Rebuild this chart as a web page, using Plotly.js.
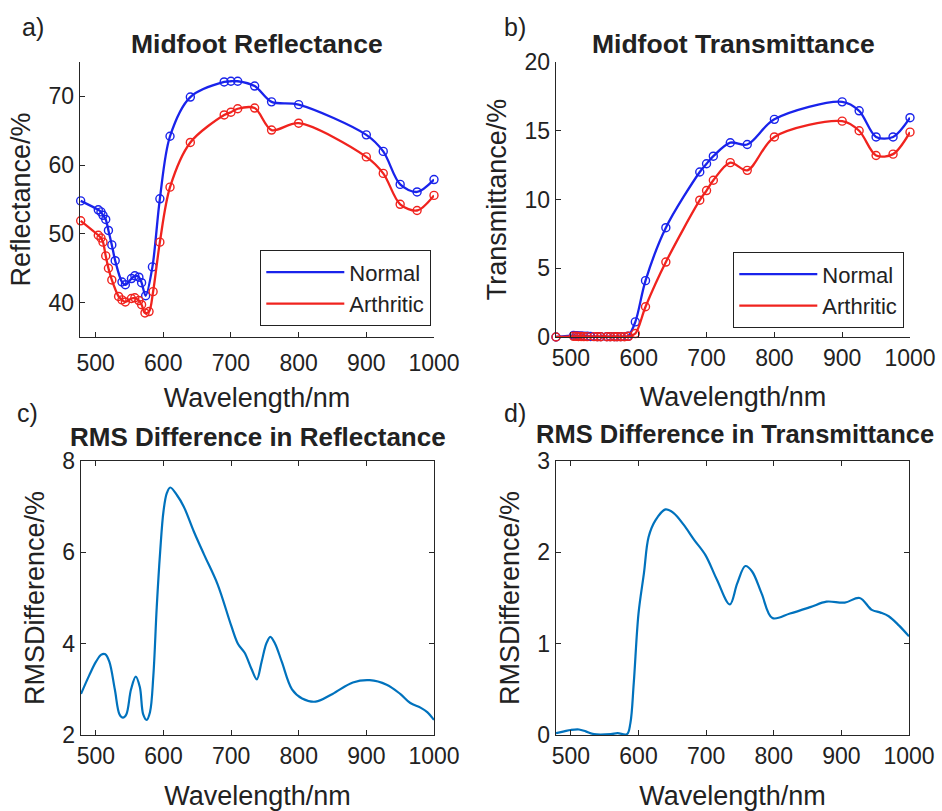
<!DOCTYPE html>
<html>
<head>
<meta charset="utf-8">
<script src="https://cdn.plot.ly/plotly-3.0.1.min.js"></script>
<style>html,body{margin:0;padding:0;background:#fff;}#chart{width:942px;height:811px;}</style>
</head>
<body>
<div id="chart"></div>
<script>
// ---------- data ----------
// Panel a / b : wavelengths of measurement (nm)
const wlNormal = [478, 504, 508, 511, 515, 519, 524, 529, 539, 544, 553, 558, 564, 568, 574, 584, 595, 610, 640, 690, 700, 710, 735, 760, 800, 900, 925, 950, 975, 1000];
const wlArthritic = [478, 504, 508, 511, 515, 519, 524, 534, 539, 544, 553, 558, 564, 568, 573, 579, 585, 595, 610, 640, 690, 700, 710, 735, 760, 800, 900, 925, 950, 975, 1000];

const reflNormal = [54.8, 53.5, 53.2, 52.7, 52.1, 50.5, 48.4, 46.1, 43.0, 42.6, 43.5, 43.9, 43.7, 42.9, 41.0, 45.2, 55.1, 64.2, 69.9, 72.1, 72.2, 72.2, 71.5, 69.2, 68.8, 64.4, 62.0, 57.2, 56.1, 57.9];
const reflArthritic = [51.9, 49.8, 49.4, 48.8, 46.8, 45.0, 43.3, 40.9, 40.4, 40.1, 40.6, 40.7, 40.3, 39.7, 38.5, 38.7, 41.6, 48.8, 56.8, 63.3, 67.3, 67.7, 68.2, 68.3, 65.1, 66.1, 61.2, 58.8, 54.3, 53.4, 55.6];

const transNormal = [0.0, 0.12, 0.1, 0.08, 0.07, 0.06, 0.05, 0.04, 0.03, 0.03, 0.03, 0.03, 0.03, 0.03, 0.03, 0.05, 1.1, 4.1, 7.95, 12.0, 12.6, 13.15, 14.13, 14.0, 15.83, 17.1, 16.45, 14.55, 14.55, 15.95];
const transArthritic = [0.0, 0.05, 0.05, 0.04, 0.04, 0.03, 0.03, 0.03, 0.02, 0.02, 0.02, 0.02, 0.02, 0.02, 0.02, 0.02, 0.05, 0.25, 2.2, 5.45, 9.95, 10.65, 11.4, 12.68, 12.12, 14.55, 15.7, 15.0, 13.2, 13.3, 14.9];

// Panel c : RMS difference in reflectance
const wlRmsRefl = [478, 490, 500, 508, 514, 520, 528, 535, 540, 545, 552, 559, 565, 570, 575, 580, 585, 590, 595, 600, 605, 610, 620, 630, 645, 660, 680, 700, 710, 720, 730, 738, 745, 752, 758, 765, 775, 790, 805, 825, 850, 880, 905, 930, 950, 965, 980, 990, 1000];
const rmsRefl = [2.9, 3.3, 3.6, 3.76, 3.77, 3.6, 3.0, 2.45, 2.38, 2.45, 3.0, 3.28, 3.05, 2.45, 2.33, 2.5, 3.3, 4.8, 6.0, 6.9, 7.3, 7.42, 7.25, 7.0, 6.45, 5.95, 5.3, 4.4, 4.0, 3.8, 3.45, 3.22, 3.6, 4.0, 4.15, 4.0, 3.6, 3.0, 2.8, 2.73, 2.9, 3.15, 3.2, 3.1, 2.9, 2.7, 2.6, 2.5, 2.33];

// Panel d : RMS difference in transmittance
const wlRmsTrans = [478, 490, 500, 512, 522, 534, 559, 569, 583, 588, 593, 600, 608, 615, 625, 640, 652, 667, 682, 699, 716, 735, 746, 758, 768, 782, 798, 824, 854, 878, 905, 927, 945, 958, 970, 985, 1000];
const rmsTrans = [0.02, 0.04, 0.055, 0.06, 0.04, 0.01, 0.01, 0.02, 0.01, 0.13, 0.57, 1.33, 1.77, 2.17, 2.35, 2.47, 2.43, 2.30, 2.14, 1.97, 1.70, 1.43, 1.66, 1.85, 1.79, 1.55, 1.28, 1.33, 1.40, 1.46, 1.45, 1.50, 1.37, 1.34, 1.30, 1.20, 1.08];

const xTicks = [500, 600, 700, 800, 900, 1000];
const yTicksA = [40, 50, 60, 70];
const yTicksB = [0, 5, 10, 15, 20];
const yTicksC = [2, 4, 6, 8];
const yTicksD = [0, 1, 2, 3];

// ---------- style ----------
const W = 942, H = 811;
const FONT = 'Liberation Sans, Arial, Helvetica, sans-serif';
const TXT = '#222222';
const AX = '#262626';
const BLUE = 'rgb(25,35,235)';
const RED = 'rgb(240,35,30)';
const RMS = 'rgb(0,114,189)';
const fx = v => v / W;
const fy = v => 1 - v / H;

function lineTrace(x, y, color, name, xa, ya, leg) {
  return {x: x, y: y, type: 'scatter', mode: 'lines', name: name,
    line: {color: color, width: 2.3, shape: 'spline', smoothing: 0.9},
    xaxis: xa, yaxis: ya, legend: leg, showlegend: true, hoverinfo: 'x+y'};
}
function markTrace(x, y, color, xa, ya) {
  return {x: x, y: y, type: 'scatter', mode: 'markers', showlegend: false,
    marker: {symbol: 'circle-open', size: 8, color: color, line: {width: 1.4, color: color}},
    cliponaxis: false, xaxis: xa, yaxis: ya};
}

const traces = [
  lineTrace(wlNormal, reflNormal, BLUE, 'Normal', 'x', 'y', 'legend'),
  markTrace(wlNormal, reflNormal, BLUE, 'x', 'y'),
  lineTrace(wlArthritic, reflArthritic, RED, 'Arthritic', 'x', 'y', 'legend'),
  markTrace(wlArthritic, reflArthritic, RED, 'x', 'y'),
  lineTrace(wlNormal, transNormal, BLUE, 'Normal', 'x2', 'y2', 'legend2'),
  markTrace(wlNormal, transNormal, BLUE, 'x2', 'y2'),
  lineTrace(wlArthritic, transArthritic, RED, 'Arthritic', 'x2', 'y2', 'legend2'),
  markTrace(wlArthritic, transArthritic, RED, 'x2', 'y2'),
  {x: wlRmsRefl, y: rmsRefl, type: 'scatter', mode: 'lines', showlegend: false,
    line: {color: RMS, width: 2.2, shape: 'spline', smoothing: 1}, xaxis: 'x3', yaxis: 'y3'},
  {x: wlRmsTrans, y: rmsTrans, type: 'scatter', mode: 'lines', showlegend: false,
    line: {color: RMS, width: 2.2, shape: 'spline', smoothing: 1}, xaxis: 'x4', yaxis: 'y4'}
];

function axis(opts) {
  return Object.assign({
    showline: true, linecolor: AX, linewidth: 1.3, mirror: false,
    ticks: 'inside', ticklen: 5, tickwidth: 1, tickcolor: AX,
    showgrid: false, zeroline: false, automargin: false,
    tickfont: {family: FONT, size: 23, color: TXT}
  }, opts);
}
const xTitle = (s) => ({text: 'Wavelength/nm', font: {family: FONT, size: 27, color: TXT}, standoff: s});
const yTitle = (t, s) => ({text: t, font: {family: FONT, size: 27, color: TXT}, standoff: s});

const legendStyle = (x, y) => ({
  x: fx(x), y: fy(y), xanchor: 'left', yanchor: 'top',
  bgcolor: '#ffffff', bordercolor: '#222222', borderwidth: 1.3,
  font: {family: FONT, size: 22, color: TXT}, itemwidth: 78, tracegroupgap: 0
});

const ann = (text, x, y, size, bold, xanchor) => ({
  text: bold ? '<b>' + text + '</b>' : text, x: fx(x), y: fy(y), xref: 'paper', yref: 'paper',
  xanchor: xanchor || 'center', yanchor: 'middle', showarrow: false,
  font: {family: FONT, size: size, color: TXT}
});

const layout = {
  width: W, height: H, margin: {l: 0, r: 0, t: 0, b: 0},
  paper_bgcolor: '#ffffff', plot_bgcolor: '#ffffff',
  font: {family: FONT, color: TXT},
  xaxis: axis({domain: [fx(80), fx(434)], range: [477, 1000], tickvals: xTicks, anchor: 'y', ticklabelstandoff: 5, title: xTitle(13)}),
  yaxis: axis({domain: [fy(337), fy(62)], range: [35, 75], tickvals: yTicksA, anchor: 'x', title: yTitle('Reflectance/%', 10)}),
  xaxis2: axis({domain: [fx(556), fx(910)], range: [478, 1000], tickvals: xTicks, anchor: 'y2', title: xTitle(17)}),
  yaxis2: axis({domain: [fy(337), fy(62)], range: [0, 20], tickvals: yTicksB, anchor: 'x2', title: yTitle('Transmittance/%', 10)}),
  xaxis3: axis({domain: [fx(81), fx(434)], range: [478, 1000], tickvals: xTicks, anchor: 'y3', mirror: 'ticks', title: xTitle(20)}),
  yaxis3: axis({domain: [fy(735), fy(461)], range: [2, 8], tickvals: yTicksC, anchor: 'x3', mirror: 'ticks', title: yTitle('RMSDifference/%', 10)}),
  xaxis4: axis({domain: [fx(556), fx(909)], range: [478, 1000], tickvals: xTicks, anchor: 'y4', mirror: 'ticks', title: xTitle(20)}),
  yaxis4: axis({domain: [fy(735), fy(461)], range: [0, 3], tickvals: yTicksD, anchor: 'x4', mirror: 'ticks', title: yTitle('RMSDifference/%', 10)}),
  legend: legendStyle(260, 250),
  legend2: legendStyle(733, 252),
  annotations: [
    ann('a)', 20, 27, 25, false, 'left'),
    ann('b)', 502, 27, 25, false, 'left'),
    ann('c)', 15, 413, 25, false, 'left'),
    ann('d)', 502, 413, 25, false, 'left'),
    ann('Midfoot Reflectance', 257, 44, 26.5, true),
    ann('Midfoot Transmittance', 733, 44, 26.5, true),
    ann('RMS Difference in Reflectance', 258, 437, 26, true),
    ann('RMS Difference in Transmittance', 735, 434, 25.5, true)
  ],
  showlegend: true
};

Plotly.newPlot('chart', traces, layout, {staticPlot: true, displayModeBar: false});
</script>
</body>
</html>
